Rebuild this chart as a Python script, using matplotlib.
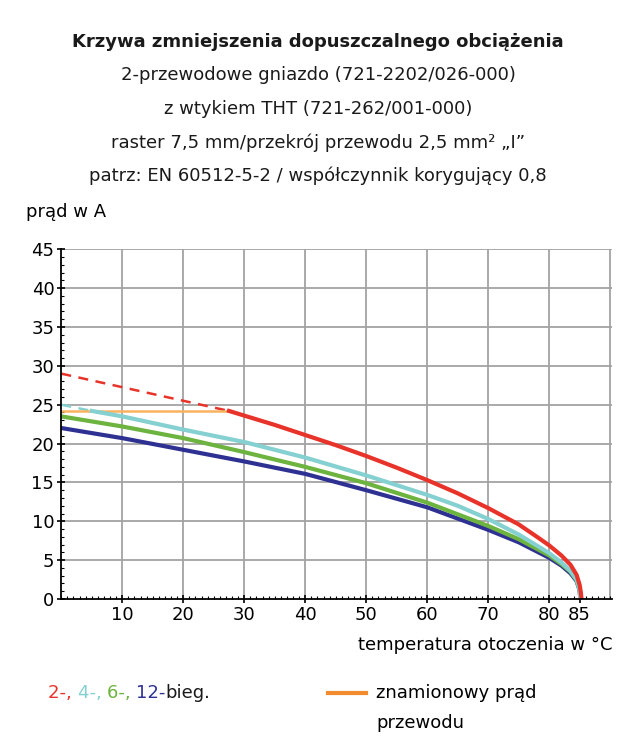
import matplotlib
matplotlib.use("Agg")
import matplotlib.pyplot as plt
from matplotlib.ticker import MultipleLocator, FixedLocator

plt.rcParams['font.family'] = ['DejaVu Sans']

# data
red_dash_x = [0, 27.5]
red_dash_y = [29.0, 24.2]
red_x = [27.5, 30, 35, 40, 45, 50, 55, 60, 65, 70, 75, 78, 80, 82, 83.5, 84.5, 85, 85.2, 85.3]
red_y = [24.2, 23.6, 22.4, 21.1, 19.8, 18.4, 16.9, 15.3, 13.6, 11.7, 9.6, 8.0, 6.9, 5.6, 4.4, 3.1, 1.8, 0.8, 0]

cyan_dash_x = [0, 5]
cyan_dash_y = [25.0, 24.2]
cyan_x = [5, 10, 20, 30, 40, 50, 60, 65, 70, 75, 80, 82, 83.5, 84.5, 85, 85.1]
cyan_y = [24.2, 23.5, 21.8, 20.2, 18.2, 15.9, 13.4, 12.0, 10.3, 8.3, 5.9, 4.7, 3.6, 2.5, 1.2, 0]

green_x = [0, 10, 20, 30, 40, 50, 60, 70, 75, 80, 82, 83.5, 84.5, 85, 85.1]
green_y = [23.5, 22.2, 20.7, 18.9, 17.0, 14.9, 12.4, 9.4, 7.7, 5.6, 4.5, 3.5, 2.4, 1.2, 0]

blue_x = [0, 10, 20, 30, 40, 50, 60, 70, 75, 80, 82, 83.5, 84.5, 85, 85.1]
blue_y = [22.0, 20.7, 19.2, 17.7, 16.1, 14.0, 11.8, 8.9, 7.3, 5.3, 4.3, 3.3, 2.3, 1.1, 0]

rated_x = [0, 27.5]
rated_y = [24.2, 24.2]

xticks = [10, 20, 30, 40, 50, 60, 70, 80, 85]
yticks = [0, 5, 10, 15, 20, 25, 30, 35, 40, 45]

title_lines = [
    "2-przewodowe gniazdo (721-2202/026-000)",
    "z wtykiem THT (721-262/001-000)",
    "raster 7,5 mm/przekrój przewodu 2,5 mm\u00b2 \u201eI\u201d",
    "patrz: EN 60512-5-2 / współczynnik korygujący 0,8",
]

RED = '#e8332a'
CYAN = '#85d0d0'
GREEN = '#6cb33f'
BLUE = '#2e3192'
ORANGE_LINE = '#f9b35e'
ORANGE = '#f28a2e'

fig = plt.figure(figsize=(6.36, 7.47), dpi=100)
ax = fig.add_axes([61.3 / 636, 148 / 747, 550.7 / 636, 349.7 / 747])

ax.set_xlim(0, 90.3)
ax.set_ylim(0, 45)
ax.xaxis.set_major_locator(FixedLocator(xticks))
ax.yaxis.set_major_locator(FixedLocator(yticks))
ax.xaxis.set_minor_locator(MultipleLocator(1))
ax.yaxis.set_minor_locator(MultipleLocator(1))

for g in range(10, 91, 10):
    ax.axvline(g, color='#a3a3a3', lw=1.3, zorder=0)
for g in range(5, 46, 5):
    ax.axhline(g, color='#a3a3a3', lw=1.3, zorder=0)

ax.plot(red_dash_x, red_dash_y, color=RED, lw=1.8, dashes=(4, 3))
ax.plot(cyan_dash_x, cyan_dash_y, color=CYAN, lw=1.8, dashes=(4, 3))
ax.plot(rated_x, rated_y, color=ORANGE_LINE, lw=1.8)
ax.plot(blue_x, blue_y, color=BLUE, lw=3)
ax.plot(green_x, green_y, color=GREEN, lw=3)
ax.plot(cyan_x, cyan_y, color=CYAN, lw=3)
ax.plot(red_x, red_y, color=RED, lw=3)

for s in ['top', 'right']:
    ax.spines[s].set_visible(False)
ax.spines['left'].set_linewidth(1.3)
ax.spines['bottom'].set_linewidth(1.3)
ax.tick_params(which='major', direction='inout', length=6, width=1.2, labelsize=13, pad=2)
ax.tick_params(which='minor', direction='in', length=2.5, width=0.8)

fig.text(0.5, 1 - 42 / 747, "Krzywa zmniejszenia dopuszczalnego obciążenia",
         ha='center', va='center', fontsize=13, fontweight='bold', color='#1a1a1a')
for i, line in enumerate(title_lines):
    fig.text(0.5, 1 - (75 + i * 33.7) / 747, line, ha='center', va='center',
             fontsize=13, color='#1a1a1a')
fig.text(26 / 636, 1 - 212 / 747, "prąd w A", ha='left', va='center', fontsize=13)
fig.text(612 / 636, 1 - 645 / 747, "temperatura otoczenia w °C", ha='right',
         va='center', fontsize=13)

# multicolour legend text
fig.canvas.draw()
renderer = fig.canvas.get_renderer()
x = 48 / 636
y = 1 - 693 / 747
for part, col in [("2-, ", RED), ("4-, ", CYAN), ("6-, ", GREEN), ("12-", BLUE), ("bieg.", '#1a1a1a')]:
    t = fig.text(x, y, part, ha='left', va='center', fontsize=13, color=col)
    bb = t.get_window_extent(renderer)
    x += bb.width / fig.bbox.width

fig.add_artist(plt.Line2D([328 / 636, 366 / 636], [y, y], color=ORANGE, lw=3))
fig.text(376 / 636, y, "znamionowy prąd", ha='left', va='center', fontsize=13)
fig.text(376 / 636, 1 - 723 / 747, "przewodu", ha='left', va='center', fontsize=13)

fig.savefig("out.png", dpi=100)
